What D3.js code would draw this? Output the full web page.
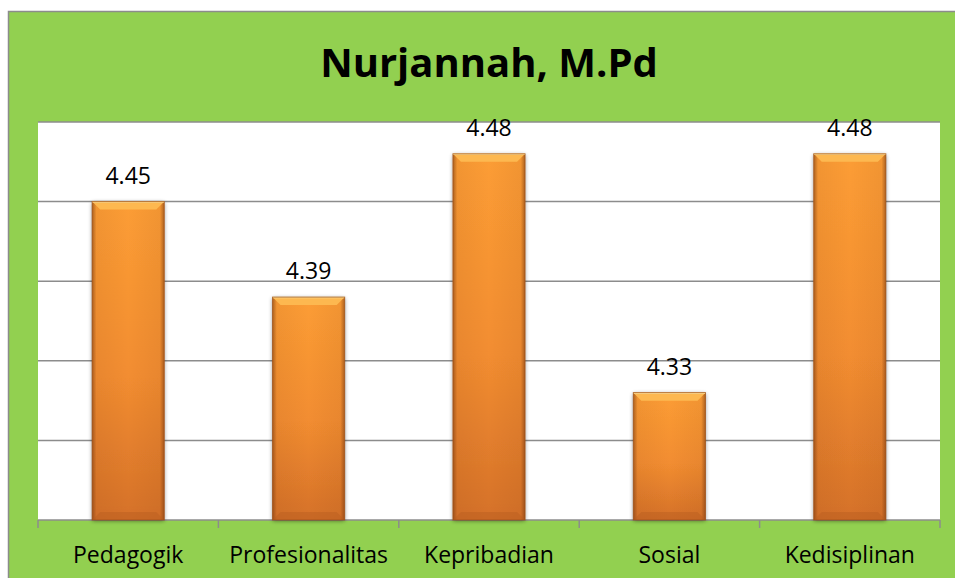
<!DOCTYPE html>
<html>
<head>
<meta charset="utf-8">
<script src="https://cdn.jsdelivr.net/npm/d3@7"></script>
<style>
  body { margin: 0; background: #fff; }
  svg { display: block; }
</style>
</head>
<body>
<script>
const width = 955;
const height = 578;

// Data
const categories = ["Pedagogik", "Profesionalitas", "Kepribadian", "Sosial", "Kedisiplinan"];
const values = [4.45, 4.39, 4.48, 4.33, 4.48];
const yTicks = [4.25, 4.30, 4.35, 4.40, 4.45, 4.50];
const title = "Nurjannah, M.Pd";

const plot = { left: 38, right: 940, top: 122, bottom: 520 };

const svg = d3.select("body")
    .append("svg")
    .attr("width", width)
    .attr("height", height);

// gradients and shadow
const defs = svg.append("defs");
const vGrad = defs.append("linearGradient")
    .attr("id", "barV").attr("x1", 0).attr("y1", 0).attr("x2", 0).attr("y2", 1);
vGrad.append("stop").attr("offset", "0%").attr("stop-color", "#fc9d35");
vGrad.append("stop").attr("offset", "55%").attr("stop-color", "#f28d30");
vGrad.append("stop").attr("offset", "100%").attr("stop-color", "#d5712a");

const hGrad = defs.append("linearGradient")
    .attr("id", "barH").attr("x1", 0).attr("y1", 0).attr("x2", 1).attr("y2", 0);
hGrad.append("stop").attr("offset", "0%").attr("stop-color", "#7a3a10").attr("stop-opacity", 0.6);
hGrad.append("stop").attr("offset", "6%").attr("stop-color", "#7a3a10").attr("stop-opacity", 0.08);
hGrad.append("stop").attr("offset", "50%").attr("stop-color", "#7a3a10").attr("stop-opacity", 0);
hGrad.append("stop").attr("offset", "94%").attr("stop-color", "#7a3a10").attr("stop-opacity", 0.08);
hGrad.append("stop").attr("offset", "100%").attr("stop-color", "#7a3a10").attr("stop-opacity", 0.6);

const shadow = defs.append("filter").attr("id", "shadow")
    .attr("x", "-20%").attr("y", "-5%").attr("width", "140%").attr("height", "110%");
shadow.append("feGaussianBlur").attr("in", "SourceAlpha").attr("stdDeviation", 2);
shadow.append("feOffset").attr("dx", 0).attr("dy", 1).attr("result", "blur");
shadow.append("feComponentTransfer").append("feFuncA").attr("type", "linear").attr("slope", 0.45);
const merge = shadow.append("feMerge");
merge.append("feMergeNode");
merge.append("feMergeNode").attr("in", "SourceGraphic");

// green chart area
svg.append("rect")
    .attr("x", 8.5).attr("y", 11.5)
    .attr("width", width).attr("height", height)
    .attr("fill", "#92d050")
    .attr("stroke", "#8c8c8c").attr("stroke-width", 1.5);

// white plot area
svg.append("rect")
    .attr("x", plot.left).attr("y", plot.top)
    .attr("width", plot.right - plot.left).attr("height", plot.bottom - plot.top)
    .attr("fill", "#ffffff");

// title
svg.append("text")
    .attr("x", 489).attr("y", 77)
    .attr("text-anchor", "middle")
    .style("font-family", "'Open Sans', sans-serif")
    .style("font-weight", "bold")
    .style("font-size", "40px")
    .attr("fill", "#000")
    .text(title);

const x = d3.scaleBand()
    .domain(categories)
    .range([plot.left, plot.right])
    .paddingInner(0.6)
    .paddingOuter(0.3);

const y = d3.scaleLinear()
    .domain([4.25, 4.5])
    .range([plot.bottom, plot.top]);

// gridlines
svg.append("g")
    .selectAll("line")
    .data(yTicks.slice(1))
    .enter()
    .append("line")
    .attr("x1", plot.left).attr("x2", plot.right)
    .attr("y1", d => y(d)).attr("y2", d => y(d))
    .attr("stroke", "#8c8c8c").attr("stroke-width", 1.5);

// x axis
const xAxisLine = svg.append("g");
xAxisLine.append("line")
    .attr("x1", plot.left).attr("x2", plot.right)
    .attr("y1", plot.bottom).attr("y2", plot.bottom)
    .attr("stroke", "#8c8c8c").attr("stroke-width", 1.5);
const tickXs = categories.map(c => x(c) - x.step() * x.paddingInner() / 2)
    .concat([plot.right]);
xAxisLine.selectAll("line.tick")
    .data(tickXs)
    .enter()
    .append("line")
    .attr("class", "tick")
    .attr("x1", d => d).attr("x2", d => d)
    .attr("y1", plot.bottom).attr("y2", plot.bottom + 8)
    .attr("stroke", "#8c8c8c").attr("stroke-width", 1.5);

// bars
const bw = x.bandwidth();
const bevel = 8;
const bars = svg.append("g")
    .selectAll("g")
    .data(categories.map((c, i) => ({ c, v: values[i] })))
    .enter()
    .append("g")
    .attr("transform", d => `translate(${x(d.c)},${y(d.v)})`);

bars.append("rect")
    .attr("width", bw)
    .attr("height", d => plot.bottom - y(d.v))
    .attr("fill", "url(#barV)")
    .attr("filter", "url(#shadow)");

bars.append("rect")
    .attr("width", bw)
    .attr("height", d => plot.bottom - y(d.v))
    .attr("fill", "url(#barH)");

// top bevel
bars.append("path")
    .attr("d", `M0,0 L${bw},0 L${bw - bevel},${bevel} L${bevel},${bevel} Z`)
    .attr("fill", "#fdb850");
bars.append("path")
    .attr("d", `M0,0.5 L${bw},0.5`)
    .attr("stroke", "#fed98a").attr("stroke-width", 1.5);

// bottom bevel
bars.append("path")
    .attr("d", d => {
        const h = plot.bottom - y(d.v);
        return `M0,${h} L${bw},${h} L${bw - bevel},${h - bevel} L${bevel},${h - bevel} Z`;
    })
    .attr("fill", "#b85d1e").attr("fill-opacity", 0.45);

// outline
bars.append("rect")
    .attr("width", bw)
    .attr("height", d => plot.bottom - y(d.v))
    .attr("fill", "none")
    .attr("stroke", "#9a4e18").attr("stroke-opacity", 0.7).attr("stroke-width", 1);

// value labels
svg.append("g")
    .selectAll("text")
    .data(categories.map((c, i) => ({ c, v: values[i] })))
    .enter()
    .append("text")
    .attr("x", d => x(d.c) + bw / 2)
    .attr("y", d => y(d.v) - 18)
    .attr("text-anchor", "middle")
    .style("font-family", "'Open Sans', sans-serif")
    .style("font-size", "23px")
    .attr("fill", "#000")
    .text(d => d3.format(".2f")(d.v));

// category labels
svg.append("g")
    .selectAll("text")
    .data(categories)
    .enter()
    .append("text")
    .attr("x", d => x(d) + bw / 2)
    .attr("y", 563)
    .attr("text-anchor", "middle")
    .style("font-family", "'Open Sans', sans-serif")
    .style("font-size", "23px")
    .attr("fill", "#000")
    .text(d => d);
</script>
</body>
</html>
